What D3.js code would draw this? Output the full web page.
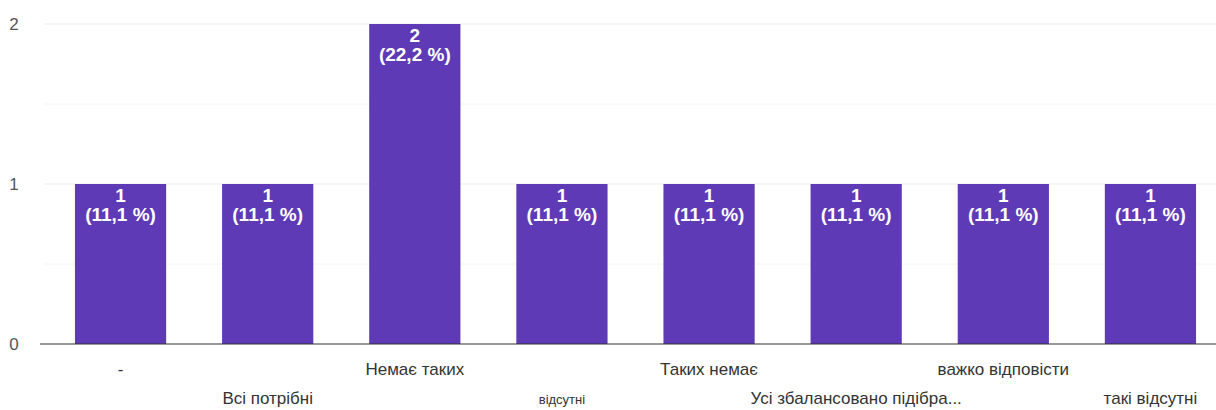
<!DOCTYPE html>
<html lang="uk">
<head>
<meta charset="UTF-8">
<script src="https://d3js.org/d3.v7.min.js"></script>
<style>
  body { margin: 0; background: #fff; }
  text { font-family: "Liberation Sans", Arial, sans-serif; }
</style>
</head>
<body>
<script>
    const categories = ["-", "Всі потрібні", "Немає таких", "відсутні", "Таких немає",
        "Усі збалансовано підібра...", "важко відповісти", "такі відсутні"];
    const counts = [1, 1, 2, 1, 1, 1, 1, 1];
    const percents = ["11,1 %", "11,1 %", "22,2 %", "11,1 %", "11,1 %", "11,1 %", "11,1 %", "11,1 %"];
    const yTicks = [0, 1, 2];
    const gridTicks = [0.5, 1, 1.5, 2];

    const width = 1216, height = 410;

    const svg = d3.select("body").append("svg")
        .attr("width", width)
        .attr("height", height);

    const x = d3.scaleBand()
        .domain(categories)
        .range([47, 1224])
        .paddingInner(0.38)
        .paddingOuter(0.19);

    const y = d3.scaleLinear()
        .domain([0, 2])
        .range([344, 24]);

    // grid lines
    svg.append("g")
        .selectAll("line")
        .data(gridTicks)
        .enter().append("line")
        .attr("x1", 44).attr("x2", width)
        .attr("y1", d => y(d)).attr("y2", d => y(d))
        .attr("stroke", d => d % 1 === 0 ? "#ebebeb" : "#f4f4f4")
        .attr("stroke-width", 1);

    // y labels
    svg.append("g")
        .selectAll("text")
        .data(yTicks)
        .enter().append("text")
        .attr("x", 14)
        .attr("y", d => y(d) + 6)
        .attr("text-anchor", "middle")
        .attr("font-size", 17)
        .attr("fill", "#555")
        .text(d => d);

    // bars
    svg.append("g")
        .selectAll("rect")
        .data(counts)
        .enter().append("rect")
        .attr("x", (d, i) => x(categories[i]))
        .attr("y", d => y(d))
        .attr("width", x.bandwidth())
        .attr("height", d => y(0) - y(d))
        .attr("fill", "#5e3ab6");

    // value labels
    const lbl = svg.append("g")
        .selectAll("text")
        .data(counts)
        .enter().append("text")
        .attr("text-anchor", "middle")
        .attr("font-size", 19)
        .attr("font-weight", "bold")
        .attr("fill", "#fff");
    lbl.append("tspan")
        .attr("x", (d, i) => x(categories[i]) + x.bandwidth() / 2)
        .attr("y", d => y(d) + 18)
        .text(d => d);
    lbl.append("tspan")
        .attr("x", (d, i) => x(categories[i]) + x.bandwidth() / 2)
        .attr("y", d => y(d) + 37)
        .text((d, i) => "(" + percents[i] + ")");

    // baseline
    svg.append("line")
        .attr("x1", 40).attr("x2", width)
        .attr("y1", y(0)).attr("y2", y(0))
        .attr("stroke", "#333")
        .attr("stroke-width", 1.2);

    // x labels, staggered in two rows
    svg.append("g")
        .selectAll("text")
        .data(categories)
        .enter().append("text")
        .attr("x", d => x(d) + x.bandwidth() / 2)
        .attr("y", (d, i) => i % 2 === 0 ? 375 : 404)
        .attr("text-anchor", "middle")
        .attr("font-size", (d, i) => i === 3 ? 13 : 17)
        .attr("fill", "#333")
        .text(d => d);
</script>
</body>
</html>
